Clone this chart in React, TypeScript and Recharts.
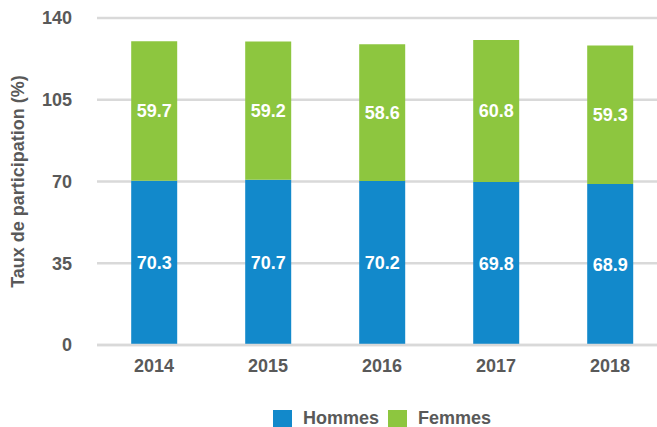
import React from "react";
import {
  BarChart,
  Bar,
  XAxis,
  YAxis,
  CartesianGrid,
  Legend,
  LabelList,
} from "recharts";

const years = ["2014", "2015", "2016", "2017", "2018"];
const hommes = [70.3, 70.7, 70.2, 69.8, 68.9];
const femmes = [59.7, 59.2, 58.6, 60.8, 59.3];
const yTicks = [0, 35, 70, 105, 140];

const data = years.map((year, i) => ({
  year,
  Hommes: hommes[i],
  Femmes: femmes[i],
}));

const FONT = "'Liberation Sans', Arial, Helvetica, sans-serif";
const TEXT_GRAY = "#595959";
const BLUE = "#1289CB";
const GREEN = "#8DC63F";

const seriesOrder = ["Hommes", "Femmes"];

function renderLegend(props: any) {
  const items = [...(props.payload || [])].sort(
    (a: any, b: any) => seriesOrder.indexOf(a.value) - seriesOrder.indexOf(b.value),
  );
  return (
    <div
      style={{
        display: "flex",
        alignItems: "center",
        paddingLeft: 273,
        height: 18,
      }}
    >
      {items.map((item: any) => (
        <div
          key={item.value}
          style={{ display: "flex", alignItems: "center", marginRight: 9 }}
        >
          <span
            style={{
              display: "inline-block",
              width: 19,
              height: 17,
              background: item.color,
              marginRight: 11,
            }}
          />
          <span
            style={{
              color: TEXT_GRAY,
              fontSize: 18,
              fontWeight: "bold",
              fontFamily: FONT,
              lineHeight: "18px",
            }}
          >
            {item.value}
          </span>
        </div>
      ))}
    </div>
  );
}

export default function App() {
  return (
    <div
      style={{
        position: "absolute",
        left: 0,
        top: 0,
        width: 657,
        height: 427,
        overflow: "hidden",
        background: "#fff",
        fontFamily: FONT,
      }}
    >
      <BarChart
        width={667}
        height={427}
        data={data}
        margin={{ top: 18, right: 0, left: 0, bottom: 0 }}
        barCategoryGap="30%"
      >
        <CartesianGrid vertical={false} stroke="#d9d9d9" strokeWidth={2.5} />
        <XAxis
          dataKey="year"
          height={64}
          tickLine={false}
          axisLine={{ stroke: "#d9d9d9", strokeWidth: 2.5 }}
          tickMargin={8}
          tick={{ fill: TEXT_GRAY, fontSize: 18, fontWeight: "bold", fontFamily: FONT }}
        />
        <YAxis
          width={97}
          domain={[0, 140]}
          ticks={yTicks}
          axisLine={false}
          tickLine={false}
          tickMargin={19}
          tick={{ fill: TEXT_GRAY, fontSize: 18, fontWeight: "bold", fontFamily: FONT }}
          label={{
            value: "Taux de participation (%)",
            angle: -90,
            position: "insideLeft",
            offset: 18,
            style: {
              textAnchor: "middle",
              fill: TEXT_GRAY,
              fontSize: 18,
              fontWeight: "bold",
              fontFamily: FONT,
            },
          }}
        />
        <Legend
          verticalAlign="bottom"
          height={18}
          wrapperStyle={{ left: 0, width: 657 }}
          content={renderLegend}
        />
        <Bar dataKey="Hommes" stackId="a" fill={BLUE} isAnimationActive={false}>
          <LabelList
            dataKey="Hommes"
            position="center"
            fill="#fff"
            style={{ fontSize: 18, fontWeight: "bold", fontFamily: FONT }}
          />
        </Bar>
        <Bar dataKey="Femmes" stackId="a" fill={GREEN} isAnimationActive={false}>
          <LabelList
            dataKey="Femmes"
            position="center"
            fill="#fff"
            style={{ fontSize: 18, fontWeight: "bold", fontFamily: FONT }}
          />
        </Bar>
      </BarChart>
    </div>
  );
}
